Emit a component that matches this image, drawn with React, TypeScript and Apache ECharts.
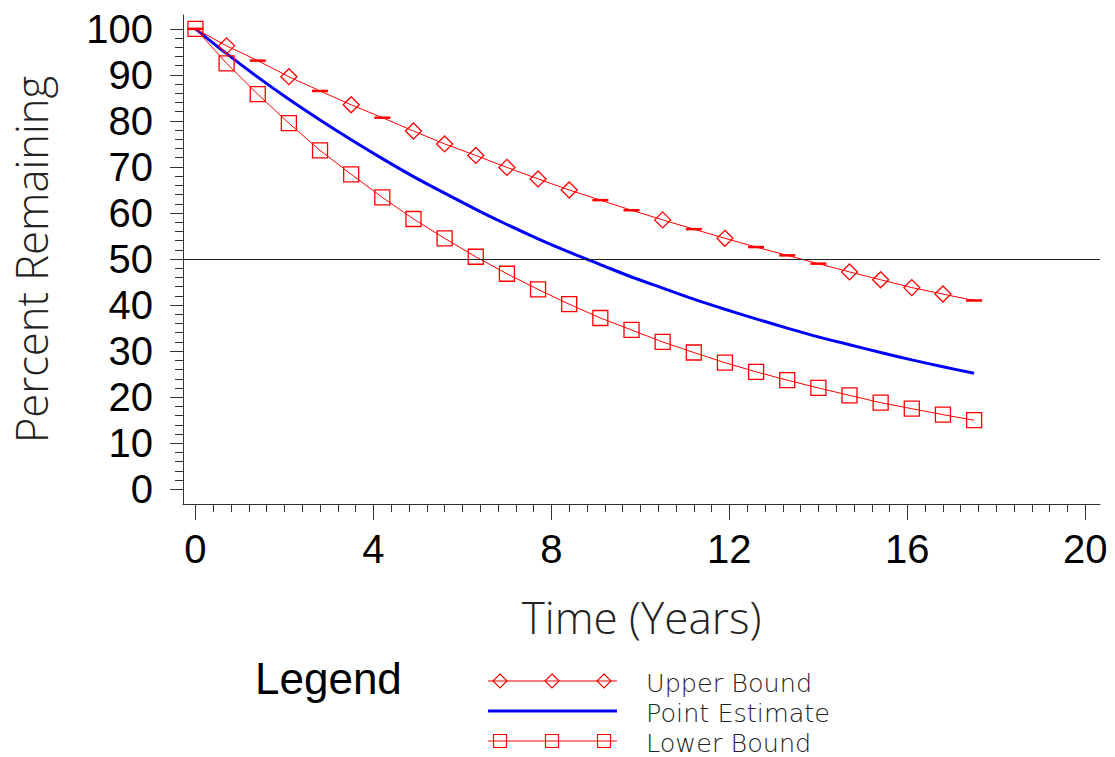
import React, { useEffect, useRef } from "react";
import * as echarts from "echarts";

// ---------- data ----------
const years = [0, 0.7, 1.4, 2.1, 2.8, 3.5, 4.2, 4.9, 5.6, 6.3, 7.0, 7.7, 8.4, 9.1, 9.8, 10.5, 11.2, 11.9, 12.6, 13.3, 14.0, 14.7, 15.4, 16.1, 16.8, 17.5];
const upperBound = [100, 96.3, 93.1, 89.6, 86.5, 83.5, 80.7, 77.8, 75.0, 72.5, 69.9, 67.4, 65.0, 62.8, 60.6, 58.5, 56.5, 54.5, 52.6, 50.8, 49.0, 47.2, 45.5, 43.8, 42.4, 41.0];
const pointEstimate = [100, 94.6, 89.5, 84.7, 80.2, 75.9, 71.8, 67.9, 64.3, 60.8, 57.5, 54.4, 51.5, 48.8, 46.1, 43.7, 41.3, 39.1, 37.0, 35.0, 33.1, 31.4, 29.7, 28.1, 26.6, 25.2];
const lowerBound = [100, 92.5, 85.8, 79.5, 73.6, 68.4, 63.4, 58.7, 54.5, 50.5, 46.8, 43.4, 40.2, 37.2, 34.6, 32.0, 29.7, 27.5, 25.5, 23.7, 22.0, 20.4, 18.8, 17.5, 16.2, 15.0];
const xTickLabels = [0, 4, 8, 12, 16, 20];
const yTickLabels = [0, 10, 20, 30, 40, 50, 60, 70, 80, 90, 100];
const referenceLevel = 50;
const seriesNames = ["Upper Bound", "Point Estimate", "Lower Bound"];
const xAxisTitle = "Time (Years)";
const yAxisTitle = "Percent Remaining";
const legendTitle = "Legend";

// ---------- style ----------
const RED = "#ff0000";
const BLUE = "#0000ff";
const AXIS = "#333333";
const NUM_FONT = "'Liberation Sans', Arial, sans-serif";
const THIN_FONT = "'Open Sans', 'DejaVu Sans', sans-serif";
const LEGEND_FONT = "'DejaVu Sans', 'Open Sans', sans-serif";
// upper-bound markers that the reference renders as flat dashes
const upperDashIdx = [0, 2, 4, 6, 13, 14, 16, 18, 19, 20, 25];

const X_MIN = -0.28;
const X_MAX = 20.33;
const Y_MIN = -3.2;
const Y_MAX = 103;

function minorValues(step: number, from: number, to: number, skip: number) {
  const out: number[] = [];
  const n = Math.round((to - from) / step);
  for (let i = 0; i <= n; i++) {
    const v = +(from + i * step).toFixed(4);
    if (Math.abs(v / skip - Math.round(v / skip)) > 1e-6) out.push(v);
  }
  return out;
}

function buildOption(): any {
  const upperData = years.map((t, i) => {
    if (upperDashIdx.indexOf(i) >= 0) {
      return {
        value: [t, upperBound[i]],
        symbol: "rect",
        symbolSize: [16, 2.5],
        itemStyle: { color: RED, borderWidth: 0 },
      };
    }
    return { value: [t, upperBound[i]] };
  });
  const lowerData = years.map((t, i) => [t, lowerBound[i]]);
  const pointData = years.map((t, i) => [t, pointEstimate[i]]);

  const xMinor = minorValues(0.4, 0, 20, 4);
  const yMinor = minorValues(2, 0, 100, 10);

  const legendX0 = 488;
  const legendX1 = 617;
  const markerXs = [500, 552, 604];
  const rowY = [681, 711, 741];
  const textX = 646;
  const ms = 7;

  const graphic: any[] = [
    {
      type: "text",
      x: 255,
      y: 678,
      style: { text: legendTitle, fontSize: 44, fontFamily: NUM_FONT, fill: "#000", align: "left", verticalAlign: "middle" },
    },
    { type: "line", shape: { x1: legendX0, y1: rowY[0], x2: legendX1, y2: rowY[0] }, style: { stroke: RED, lineWidth: 1 } },
    ...markerXs.map((cx) => ({
      type: "polygon",
      shape: { points: [[cx, rowY[0] - ms], [cx + ms, rowY[0]], [cx, rowY[0] + ms], [cx - ms, rowY[0]]] },
      style: { fill: "none", stroke: RED, lineWidth: 1.2 },
    })),
    { type: "line", shape: { x1: legendX0, y1: rowY[1], x2: legendX1, y2: rowY[1] }, style: { stroke: BLUE, lineWidth: 3 } },
    { type: "line", shape: { x1: legendX0, y1: rowY[2], x2: legendX1, y2: rowY[2] }, style: { stroke: RED, lineWidth: 1 } },
    ...markerXs.map((cx) => ({
      type: "rect",
      shape: { x: cx - 6.5, y: rowY[2] - 6.5, width: 13, height: 13 },
      style: { fill: "none", stroke: RED, lineWidth: 1.2 },
    })),
    ...seriesNames.map((name, i) => ({
      type: "text",
      x: textX,
      y: rowY[i] + 2,
      style: { text: name, fontSize: 25.5, fontFamily: LEGEND_FONT, fontWeight: 200, fill: "#222", align: "left", verticalAlign: "middle" },
    })),
  ];

  return {
    animation: false,
    backgroundColor: "#ffffff",
    grid: { left: 183, right: 15, top: 15, bottom: 253, containLabel: false },
    xAxis: [
      {
        type: "value",
        min: X_MIN,
        max: X_MAX,
        position: "bottom",
        name: xAxisTitle,
        nameLocation: "middle",
        nameGap: 91,
        nameTextStyle: { fontSize: 44, fontFamily: THIN_FONT, fontWeight: 300, color: "#222" },
        axisLine: { show: true, onZero: false, lineStyle: { color: AXIS, width: 1 } },
        axisTick: { show: true, customValues: xTickLabels, length: 16, lineStyle: { color: AXIS, width: 1 } },
        axisLabel: { show: true, customValues: xTickLabels, fontSize: 40, fontFamily: NUM_FONT, color: "#000", margin: 25 },
        splitLine: { show: false },
      },
      {
        type: "value",
        min: X_MIN,
        max: X_MAX,
        position: "bottom",
        axisLine: { show: false, onZero: false },
        axisTick: { show: true, customValues: xMinor, length: 8, lineStyle: { color: AXIS, width: 1 } },
        axisLabel: { show: false },
        splitLine: { show: false },
      },
    ],
    yAxis: [
      {
        type: "value",
        min: Y_MIN,
        max: Y_MAX,
        position: "left",
        name: yAxisTitle,
        nameLocation: "middle",
        nameGap: 130,
        nameTextStyle: { fontSize: 43.5, fontFamily: THIN_FONT, fontWeight: 300, color: "#222" },
        axisLine: { show: true, onZero: false, lineStyle: { color: AXIS, width: 1 } },
        axisTick: { show: true, customValues: yTickLabels, length: 13, lineStyle: { color: AXIS, width: 1 } },
        axisLabel: { show: true, customValues: yTickLabels, fontSize: 40, fontFamily: NUM_FONT, color: "#000", margin: 30 },
        splitLine: { show: false },
      },
      {
        type: "value",
        min: Y_MIN,
        max: Y_MAX,
        position: "left",
        axisLine: { show: false, onZero: false },
        axisTick: { show: true, customValues: yMinor, length: 8, lineStyle: { color: AXIS, width: 1 } },
        axisLabel: { show: false },
        splitLine: { show: false },
      },
    ],
    series: [
      {
        name: seriesNames[0],
        type: "line",
        data: upperData,
        symbol: "diamond",
        symbolSize: 16,
        showAllSymbol: true,
        lineStyle: { color: RED, width: 1 },
        itemStyle: { color: "rgba(0,0,0,0)", borderColor: RED, borderWidth: 1.3 },
        z: 3,
      },
      {
        name: seriesNames[1],
        type: "line",
        data: pointData,
        smooth: 0.3,
        showSymbol: false,
        lineStyle: { color: BLUE, width: 3 },
        itemStyle: { color: BLUE },
        z: 2,
        markLine: {
          silent: true,
          symbol: "none",
          label: { show: false },
          lineStyle: { color: "#222", width: 1, type: "solid" },
          data: [{ yAxis: referenceLevel }],
        },
      },
      {
        name: seriesNames[2],
        type: "line",
        data: lowerData,
        symbol: "rect",
        symbolSize: 15,
        showAllSymbol: true,
        lineStyle: { color: RED, width: 1 },
        itemStyle: { color: "rgba(0,0,0,0)", borderColor: RED, borderWidth: 1.3 },
        z: 3,
      },
    ],
    graphic,
  };
}

export default function App() {
  const ref = useRef<HTMLDivElement>(null);
  useEffect(() => {
    if (!ref.current) return;
    const chart = echarts.init(ref.current, undefined, { renderer: "svg" });
    chart.setOption(buildOption());
    return () => chart.dispose();
  }, []);
  return (
    <div
      ref={ref}
      style={{ position: "absolute", left: 0, top: 0, width: 1115, height: 757, background: "#fff" }}
    />
  );
}
